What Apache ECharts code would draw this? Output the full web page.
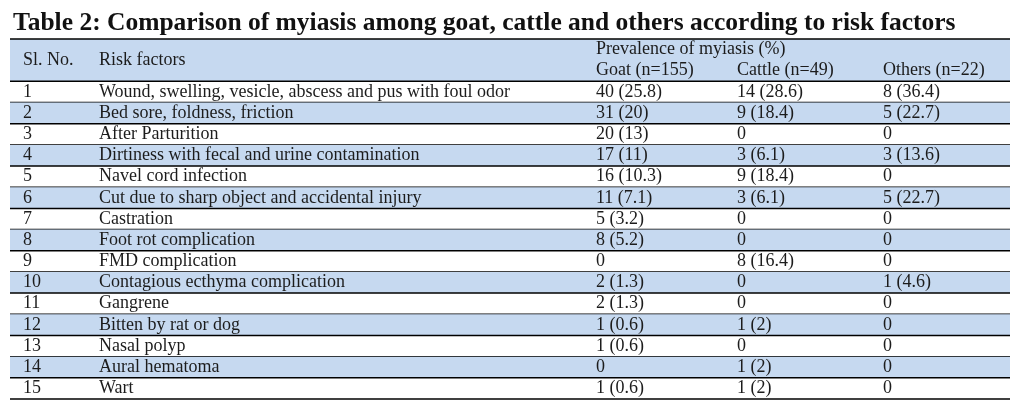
<!DOCTYPE html>
<html lang="en">
<head>
    <meta charset="UTF-8">
    <title>Table 2</title>
    <style>
        html, body { margin: 0; padding: 0; background: #ffffff; }
        #main { width: 1020px; height: 412px; }
    </style>
</head>
<body>
<div id="main"></div>

<script src="https://cdn.jsdelivr.net/npm/echarts@6/dist/echarts.min.js"></script>
<script>
    // table content
    const slNo = ['1', '2', '3', '4', '5', '6', '7', '8', '9', '10', '11', '12', '13', '14', '15'];
    const riskFactors = [
        'Wound, swelling, vesicle, abscess and pus with foul odor',
        'Bed sore, foldness, friction',
        'After Parturition',
        'Dirtiness with fecal and urine contamination',
        'Navel cord infection',
        'Cut due to sharp object and accidental injury',
        'Castration',
        'Foot rot complication',
        'FMD complication',
        'Contagious ecthyma complication',
        'Gangrene',
        'Bitten by rat or dog',
        'Nasal polyp',
        'Aural hematoma',
        'Wart'
    ];
    const goatCount = [40, 31, 20, 17, 16, 11, 5, 8, 0, 2, 2, 1, 1, 0, 1];
    const goatPct = [25.8, 20, 13, 11, 10.3, 7.1, 3.2, 5.2, null, 1.3, 1.3, 0.6, 0.6, null, 0.6];
    const cattleCount = [14, 9, 0, 3, 9, 3, 0, 0, 8, 0, 0, 1, 0, 1, 1];
    const cattlePct = [28.6, 18.4, null, 6.1, 18.4, 6.1, null, null, 16.4, null, null, 2, null, 2, 2];
    const othersCount = [8, 5, 0, 3, 0, 5, 0, 0, 0, 1, 0, 0, 0, 0, 0];
    const othersPct = [36.4, 22.7, null, 13.6, null, 22.7, null, null, null, 4.6, null, null, null, null, null];

    const titleText = 'Table 2: Comparison of myiasis among goat, cattle and others according to risk factors';
    const groupHeader = 'Prevalence of myiasis (%)';
    const columnHeaders = ['Sl. No.', 'Risk factors', 'Goat (n=155)', 'Cattle (n=49)', 'Others (n=22)'];

    // layout (x axis runs 0..1000 across the table, y axis counts row units)
    const colStart = [13, 89, 586, 727, 873];
    const headerUnits = 2;
    const totalUnits = headerUnits + slNo.length;
    const fontFamily = '"Liberation Serif", "DejaVu Serif", serif';
    const blue = '#c6d9f0';

    function cell(n, p) {
        if (!n) return '0';
        return n + ' (' + p + ')';
    }

    function rowTexts(i) {
        return [
            slNo[i],
            riskFactors[i],
            cell(goatCount[i], goatPct[i]),
            cell(cattleCount[i], cattlePct[i]),
            cell(othersCount[i], othersPct[i])
        ];
    }

    // data item: [top, bottom] in row units; first item is the header
    let rows = [[0, headerUnits]];
    slNo.forEach((s, i) => rows.push([headerUnits + i, headerUnits + i + 1]));

    function textEl(x, y, str) {
        return {
            type: 'text',
            style: {
                x: x, y: y, text: str,
                fill: '#1c1c1c',
                font: '18px ' + fontFamily,
                textVerticalAlign: 'middle'
            }
        };
    }

    function lineEl(x1, x2, y) {
        return {
            type: 'line',
            shape: { x1: x1, y1: y, x2: x2, y2: y },
            style: { stroke: '#000', lineWidth: 1.5 }
        };
    }

    function renderItem(params, api) {
        let idx = params.dataIndex;
        let top = api.value(0), bottom = api.value(1);
        let p0 = api.coord([0, top]);
        let p1 = api.coord([1000, bottom]);
        let x0 = p0[0], x1 = p1[0], y0 = p0[1], y1 = p1[1];
        let xs = colStart.map(c => api.coord([c, top])[0]);
        let children = [];

        let shaded = idx === 0 || idx % 2 === 0;
        if (shaded) {
            children.push({
                type: 'rect',
                shape: { x: x0, y: y0, width: x1 - x0, height: y1 - y0 },
                style: { fill: blue }
            });
        }

        if (idx === 0) {
            let yMid = api.coord([0, (top + bottom) / 2])[1];
            let yUp = api.coord([0, top + 0.5])[1];
            let yLow = api.coord([0, top + 1.5])[1];
            children.push(textEl(xs[0], yMid, columnHeaders[0]));
            children.push(textEl(xs[1], yMid, columnHeaders[1]));
            children.push(textEl(xs[2], yUp, groupHeader));
            for (let c = 2; c < 5; c++) {
                children.push(textEl(xs[c], yLow, columnHeaders[c]));
            }
            children.push(lineEl(x0, x1, y0));
        } else {
            let yMid = (y0 + y1) / 2;
            rowTexts(idx - 1).forEach((t, c) => children.push(textEl(xs[c], yMid, t)));
        }
        children.push(lineEl(x0, x1, y1));

        return { type: 'group', children: children };
    }

    let chart = echarts.init(document.getElementById('main'));
    chart.setOption({
        animation: false,
        title: {
            text: titleText,
            left: 8,
            top: 5,
            textStyle: {
                fontFamily: fontFamily,
                fontWeight: 'bold',
                fontSize: 25.5,
                color: '#111'
            }
        },
        grid: { left: 10, right: 10, top: 39, height: 360, containLabel: false },
        xAxis: { type: 'value', min: 0, max: 1000, show: false },
        yAxis: { type: 'value', min: 0, max: totalUnits, inverse: true, show: false },
        series: [{
            type: 'custom',
            renderItem: renderItem,
            data: rows,
            clip: false,
            silent: true
        }]
    });
</script>
</body>
</html>
